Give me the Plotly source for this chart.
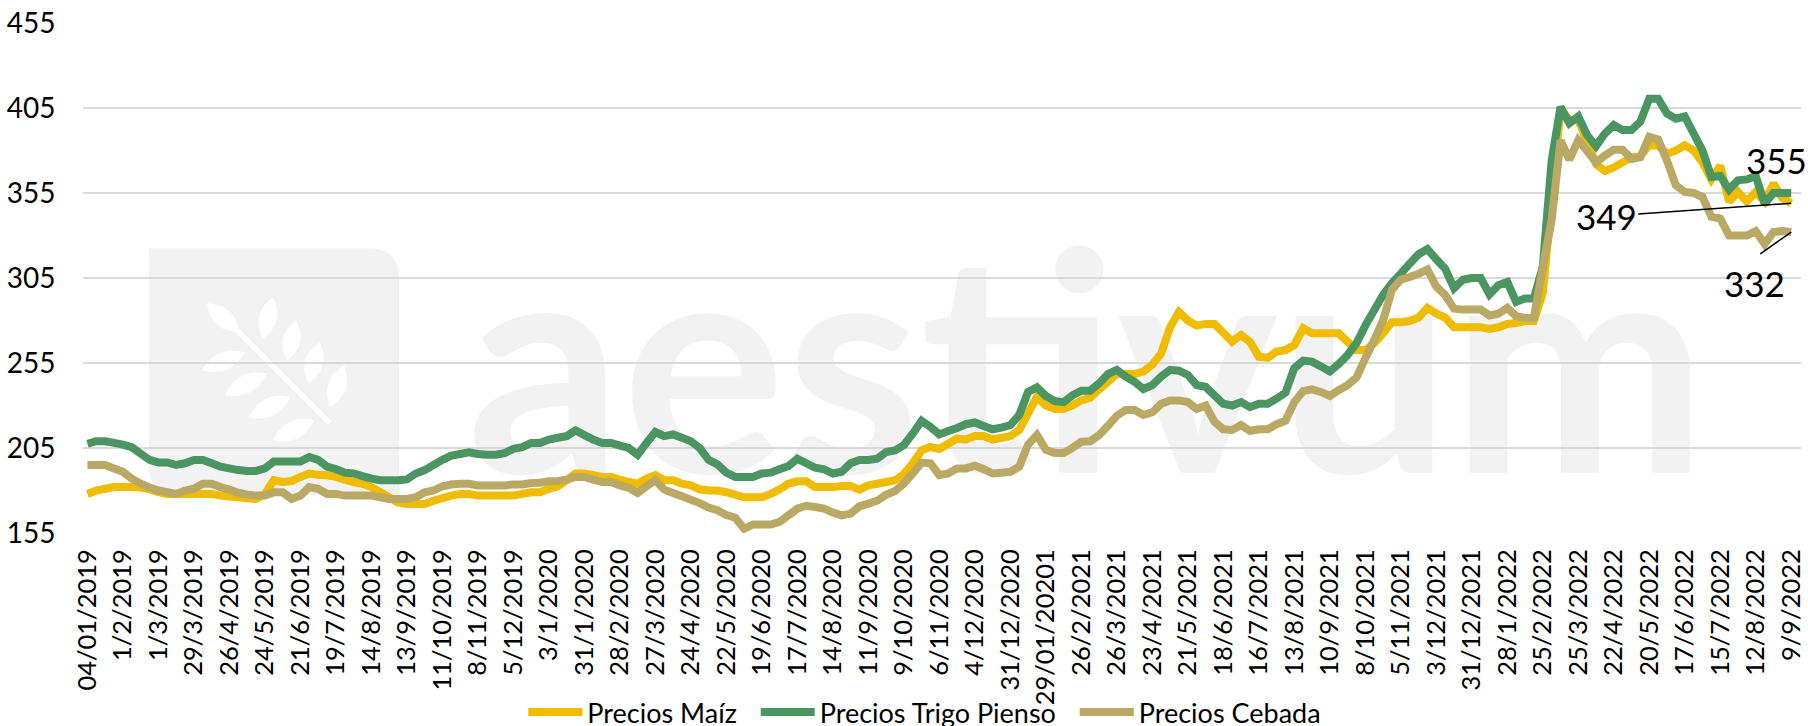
import plotly.graph_objects as go

tick_labels = [
    "04/01/2019","1/2/2019","1/3/2019","29/3/2019","26/4/2019","24/5/2019","21/6/2019","19/7/2019","14/8/2019","13/9/2019",
    "11/10/2019","8/11/2019","5/12/2019","3/1/2020","31/1/2020","28/2/2020","27/3/2020","24/4/2020","22/5/2020","19/6/2020",
    "17/7/2020","14/8/2020","11/9/2020","9/10/2020","6/11/2020","4/12/2020","31/12/2020","29/01/20201","26/2/2021","26/3/2021",
    "23/4/2021","21/5/2021","18/6/2021","16/7/2021","13/8/2021","10/9/2021","8/10/2021","5/11/2021","3/12/2021","31/12/2021",
    "28/1/2022","25/2/2022","25/3/2022","22/4/2022","20/5/2022","17/6/2022","15/7/2022","12/8/2022","9/9/2022",
]

precios_maiz = [
    178,180,181,182,182,182,181.7,180.7,179,178,178,178,178,178,178,177,176.5,176,175.5,175,178,186,185,185.6,188,
    190,189.3,189,188,186.4,185,184,182,179,176,173,172,172,172,174,175.5,177,178,178,177,177,177,177,177,178,
    179,179,181,182.5,186,190,190,189,188,188,186.4,185,184,187,189,186,186,184,183,180.7,180,180,179,177.5,
    176,176,176,178,180.7,184,185.4,185.4,182,182,182,182.6,182.6,180.5,183,184,185,186,189.5,196,203.6,205.6,204.4,207.5,210.5,
    210,212,212,210,211,212,215.6,225.4,235,230,228,228,230,233,234.6,239.5,244,248.5,248.5,248.5,250,254,260.7,276,285,
    280,277,278,278,272.8,267.5,271.5,267.5,258.7,258,261.7,262.6,265.6,275.4,272.5,272.5,272.5,272.5,267.5,262.6,262.6,266.6,272.5,279,279,
    279.7,281.7,287.4,284,281.7,276,276,276,276,275,276,278,278.5,279.7,279.7,
    296,350,404.6,398,398,385,372,368,370,373,376,377,383,383,378,380,383,380,373,363,371,350,355.6,350,355.6,350,360.5,352,349,
]
precios_trigo = [
    207.5,209,209,208,207,205.5,201.7,198,196.5,196.5,195,196,198,198,196,194,193,192,191.5,191.5,193,197,197,197,197,
    199.7,198,194,192.6,190.5,190,188.5,187,186,186,186,186.5,190,192,195,198,200.5,201.5,202.5,201.5,201,201,202,204.5,205.5,
    208,208,210,211,212,215.4,212.6,210,208,208,206.4,205,201,208,214.4,212,213,211,209,205,198,195.4,190.5,188,
    188,188,190,190.5,192.5,194.4,198.7,196,193.4,192.5,190,191,196,198,198,198.7,202.6,203.6,206.6,213.4,221,217.4,213,215,216.8,
    219,220,218,216,217,218.5,224.4,238,240.7,235.6,232.6,232,236,238.7,238.7,243,248.5,251,247,244,239.7,242,247,251,250.5,
    248,242,241,236,231,230,232,229,231,231,234,237.5,252,256.4,255.8,253,250,254.4,259.7,266.6,277,286,295,302,307.5,
    313.4,319,322,316,310.5,299,304,305,305,295.4,300.7,302.6,291,293,293,
    311.5,374,405.6,396,400,389,382.6,390,395,392,392,397,410.5,410.5,401.7,398.7,400,390,380,364.4,365,357,362.5,363,365,348.7,355,355,355,
]
precios_cebada = [
    195,195,195,193,191,187,184,181.7,180,179,178,180,181,184,184,182,180.5,178.7,177.5,177,177,179,179,175,177,
    182,181,178,178,177,177,177,177,176,175,175,175,176,179,180,182.5,183.5,184,184,183,183,183,183,183.5,183.5,
    184.4,184.6,185.4,185.6,186.4,188,188,186.4,185,185,183,181.6,178.5,182.5,186,180.5,178.5,176.6,174.6,172.6,170,168.4,165.5,164,
    157.5,160,160,160,161.5,165.4,169.3,171,170.3,169.3,167,165.4,166.4,170.7,172.3,174,177.5,179.7,184,190,196.4,196,189,190,193,
    193,194.6,192.5,190,190.5,191,194,207,212.6,204,202,202,205,208.7,209,212.6,218,224,227.4,227.4,224.4,226,231,233,233,
    232,228,230,220.5,216,215.6,218.5,215,216,216,219,221,232,238.5,239.5,238,235.6,239,242,246.4,257.7,268.5,280,298,304,
    305.6,307.5,310,300,295,287,286.4,286.4,286.4,283,284,287.5,282.5,281.5,281.5,
    311.5,339,386,374.6,386,379.7,373,377,380.5,380.5,375,376,388,386.4,374,359.5,355.6,355,352.6,341,340,330,330,330,332.6,325,332,332.6,332,
]
assert len(precios_maiz) == len(precios_trigo) == len(precios_cebada) == 193

y_ticks = [155, 205, 255, 305, 355, 405, 455]
FONT = "Lato"
L, R, T, B = 83.0, 1801.0, 22.7, 532.7

def px(x, y):
    return f"{(x-L)/(R-L):.5f},{(B-y)/(B-T):.5f}"

def leaf(bx, by, tx, ty, w=18):
    dx, dy = tx-bx, ty-by
    mx, my = (bx+tx)/2, (by+ty)/2
    n = (dx*dx+dy*dy)**0.5
    ox, oy = -dy/n*w, dx/n*w
    return f"M{px(bx,by)} Q{px(mx+ox,my+oy)} {px(tx,ty)} Q{px(mx-ox,my-oy)} {px(bx,by)} Z"

leaves = [
    (239,332,207,303),(263,338,273,297),(287,360,296,320),(308,383,320,342),(330,407,344,365),
    (245,352,202,370),(267,373,225,395),(290,397,249,417),(314,420,273,440),
]
r = 30
rect = (f"M{px(149,248)} L{px(399-r,248)} Q{px(399,248)} {px(399,248+r)} L{px(399,495)} "
        f"L{px(149+r,495)} Q{px(149,495)} {px(149,495-r)} Z")
shapes = [dict(type="path", xref="paper", yref="paper", path=rect, fillcolor="#f2f2f2", line_width=0, layer="below")]
for l in leaves:
    shapes.append(dict(type="path", xref="paper", yref="paper", path=leaf(*l), fillcolor="#ffffff", line_width=0, layer="below"))
shapes.append(dict(type="path", xref="paper", yref="paper",
                   path=f"M{px(237,330)} L{px(330,423)}", line=dict(color="#ffffff", width=5), layer="below"))
shapes.append(dict(type="rect", xref="paper", yref="paper",
                   x0=(462-L)/(R-L), x1=(1712-L)/(R-L), y0=(B-640)/(B-T), y1=(B-60)/(B-T),
                   line_width=0, fillcolor="rgba(0,0,0,0)", layer="below",
                   label=dict(text="<b>aestivum</b>", textposition="middle center",
                              font=dict(family=FONT, size=306, color="#f2f2f2"))))

x = list(range(len(precios_maiz)))
fig = go.Figure()
for name, vals, col in [("Precios Maíz\u00a0\u00a0", precios_maiz, "#f0bc00"),
                        ("Precios Trigo Pienso\u00a0\u00a0", precios_trigo, "#4b9562"),
                        ("Precios Cebada", precios_cebada, "#b9a965")]:
    fig.add_trace(go.Scatter(x=x, y=vals, mode="lines", name=name,
                             line=dict(color=col, width=8, simplify=False),
                             hoverinfo="skip"))

anns = [
    dict(x=192, y=355, text="355", showarrow=False, xanchor="center", yanchor="middle", xshift=-15, yshift=33),
    dict(x=192, y=349, text="349", showarrow=True, arrowhead=0, arrowwidth=1.5, arrowcolor="#000",
         axref="pixel", ayref="pixel", ax=-185, ay=13),
    dict(x=192, y=332, text=" ", showarrow=True, arrowhead=0, arrowwidth=1.5, arrowcolor="#000", ax=-37, ay=26),
    dict(x=192, y=332, text="332", showarrow=False, xanchor="center", yanchor="middle", xshift=-37, yshift=-51),
]
for a in anns:
    a["font"] = dict(family=FONT, size=35, color="#000")
fig.update_layout(
    width=1808, height=726, margin=dict(l=L, r=1808-R, t=T, b=726-B, pad=0, autoexpand=False),
    plot_bgcolor="#fff", paper_bgcolor="#fff",
    font=dict(family=FONT, size=25, color="#000"),
    shapes=shapes, annotations=anns,
    xaxis=dict(range=[-0.5, 193.1], tickmode="array", tickvals=x[::4], ticktext=tick_labels,
               tickangle=-90, showgrid=False, zeroline=False, showline=False,
               ticks="outside", ticklen=5, tickcolor="rgba(0,0,0,0)", ticklabeloverflow="allow", automargin=False,
               tickfont=dict(family=FONT, size=25.5, color="#000")),
    yaxis=dict(range=[155, 455], tickmode="array", tickvals=y_ticks, showgrid=True,
               gridcolor="#d9d9d9", gridwidth=1.5, zeroline=False, showline=False,
               ticks="outside", ticklen=21, tickcolor="rgba(0,0,0,0)", automargin=False,
               tickfont=dict(family=FONT, size=28, color="#000")),
    legend=dict(orientation="h", x=0.49, xanchor="center", y=-0.304, yanchor="top",
                itemwidth=54, font=dict(family=FONT, size=27, color="#000"),
                bgcolor="rgba(0,0,0,0)", tracegroupgap=0),
    showlegend=True,
)
fig.write_html("out.html", config=dict(displayModeBar=False),
               post_script="document.body.style.margin='0';document.body.style.overflow='hidden';")
